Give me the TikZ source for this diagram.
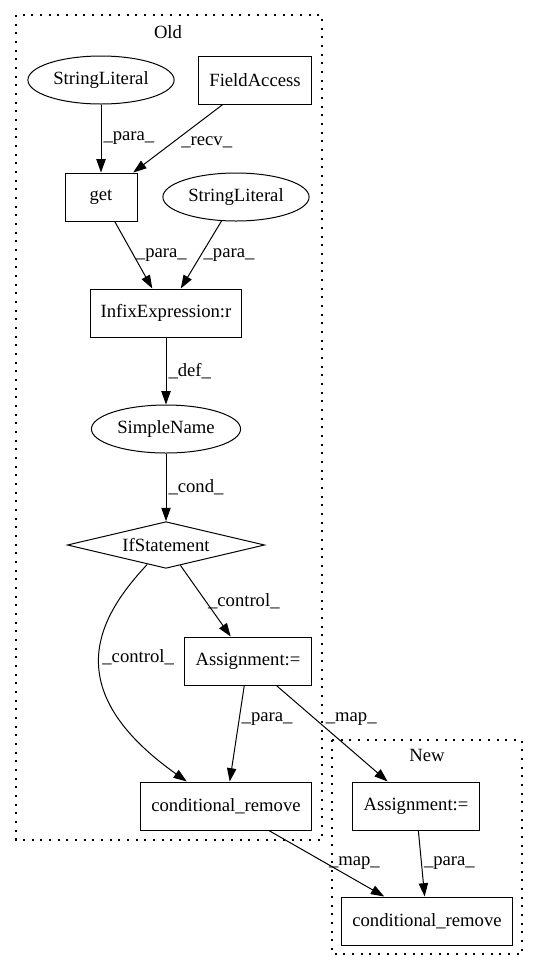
\documentclass[tikz,border=0pt]{standalone}
\usepackage{fontspec}
\setmainfont{Liberation Serif}
\usetikzlibrary{shapes.geometric,arrows.meta}
\tikzstyle{box state}=[
        draw,
        rectangle,
        minimum height = 36pt,
        inner xsep = 8pt,
        font = \fontsize{14}{16}\selectfont
    ]
\tikzstyle{oval state}=[
        draw,
        ellipse,
        minimum height = 36pt,
        inner xsep = 3pt,
        font = \fontsize{14}{16}\selectfont
    ]
\tikzstyle{cond state}=[
        draw,
        diamond,
        aspect = 4.2,
        minimum width = 148pt,
        minimum height = 35pt,
        inner sep = 0pt,
        font = \fontsize{14}{16}\selectfont
    ]
\tikzstyle{cluster}=[
        draw,
        line width = 0.8pt,
        dash pattern = on 1.5pt off 5pt
    ]

\begin{document}
\begin{tikzpicture}[x=0.75pt, y=-0.75pt, line width=0.75pt,
        >={Triangle[length=10pt,width=7pt]},
        lbl/.style = {font=\fontsize{14}{16}\selectfont, inner sep=1.5pt}]
        \useasboundingbox (0,0) rectangle (537,972);

        \draw[cluster] (16,15) rectangle (322,840);
        \node[font=\fontsize{14}{16}\selectfont] (old) at (168,32) {Old};
        \draw[cluster] (332,740) rectangle (522,954);
        \node[font=\fontsize{14}{16}\selectfont] (new) at (427,755) {New};

        \node[oval state] (SL1) at (101,80) {StringLiteral};
        \node[box state] (FA) at (255,80) {FieldAccess};
        \node[box state, minimum width = 54pt] (G) at (101,197) {get};
        \node[oval state] (SL2) at (236,197) {StringLiteral};
        \node[box state] (IE) at (166,313) {InfixExpression:r};
        \node[oval state] (SN) at (166,429) {SimpleName};
        \node[cond state] (IF) at (166,545) {IfStatement};
        \node[box state] (AS) at (248,661) {Assignment:=};
        \node[box state] (CR) at (226,806) {conditional\_remove};
        \node[box state] (AS2) at (416,806) {Assignment:=};
        \node[box state] (CR2) at (427,921) {conditional\_remove};

        \draw[->] (SL1) -- (G) node [lbl, midway, right] {\_para\_};
        \draw[->] (FA) -- (G) node [lbl, pos=0.55, right, xshift=4pt] {\_recv\_};
        \draw[->] (G) -- (IE) node [lbl, midway, right] {\_para\_};
        \draw[->] (SL2) -- (IE) node [lbl, midway, right] {\_para\_};
        \draw[->] (IE) -- (SN) node [lbl, midway, right] {\_def\_};
        \draw[->] (SN) -- (IF) node [lbl, midway, right] {\_cond\_};
        \draw[->] (IF) -- (AS) node [lbl, midway, right] {\_control\_};
        \draw[->] (IF.226) .. controls (100,615) and (55,688) .. (CR.148)
            node [lbl, pos=0.5, right] {\_control\_};
        \draw[->] (AS) -- (CR) node [lbl, pos=0.35, right] {\_para\_};
        \draw[->] (AS) -- (AS2) node [lbl, pos=0.35, right, xshift=6pt] {\_map\_};
        \draw[->] (CR) -- (CR2) node [lbl, midway, right] {\_map\_};
        \draw[->] (AS2) -- (CR2) node [lbl, midway, right] {\_para\_};
    \end{tikzpicture}
\end{document}
